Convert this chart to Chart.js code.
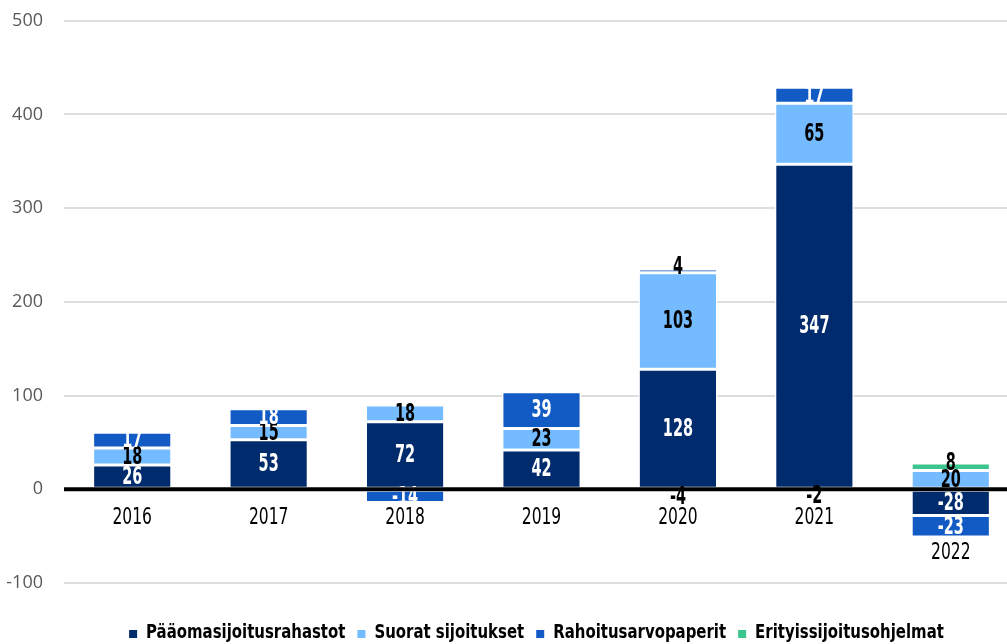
<!DOCTYPE html>
<html>
<head>
<meta charset="utf-8">
<script src="https://cdn.jsdelivr.net/npm/chart.js@4.4.0/dist/chart.umd.min.js"></script>
<style>
  html, body { margin: 0; padding: 0; background: #fff; overflow: hidden; }
  #wrap { position: relative; width: 1019px; height: 655px; margin-top: -11px; }
</style>
</head>
<body>
<div id="wrap"><canvas id="flowChart"></canvas></div>
<script>
// categories and series
let years = ['2016', '2017', '2018', '2019', '2020', '2021', '2022'];
let seriesNames = [
    'Pääomasijoitusrahastot',
    'Suorat sijoitukset',
    'Rahoitusarvopaperit',
    'Erityissijoitusohjelmat'
];
let rahastot = [26, 53, 72, 42, 128, 347, -28];
let suorat = [18, 15, 18, 23, 103, 65, 20];
let rahoitus = [17, 18, -14, 39, 4, 17, -23];
let erityis = [0, 0, 0, 0, -4, -2, 8];
let yTicks = [-100, 0, 100, 200, 300, 400, 500];

let seriesColors = ['#002b6c', '#75bbff', '#125ac4', '#3cc68f'];
let labelColors = ['#ffffff', '#000000', '#ffffff', '#000000'];

const narrow = '"DejaVu Sans Condensed", "DejaVu Sans", sans-serif';

// squeeze text sideways, the original uses a condensed face
function squeezeText(ctx, text, x, y, sx) {
    ctx.save();
    ctx.translate(x, y);
    ctx.scale(sx, 1);
    ctx.fillText(text, 0, 0);
    ctx.restore();
}

// value labels centred in each segment
const valueLabels = {
    id: 'valueLabels',
    afterDatasetsDraw(chart) {
        const ctx = chart.ctx;
        ctx.save();
        ctx.font = 'bold 24px ' + narrow;
        ctx.textAlign = 'center';
        ctx.textBaseline = 'middle';
        chart.data.datasets.forEach((ds, di) => {
            const meta = chart.getDatasetMeta(di);
            meta.data.forEach((bar, i) => {
                const v = ds.data[i];
                if (!v) return;
                const h = Math.abs(bar.base - bar.y);
                let ly = (bar.y + bar.base) / 2 + 1;
                if (h < 8) {
                    // thin slices: label nudged off the zero side
                    ctx.fillStyle = '#000000';
                    ly += v > 0 ? -4 : 5;
                } else {
                    ctx.fillStyle = labelColors[di];
                }
                squeezeText(ctx, String(v), bar.x, ly, 0.67);
            });
        });
        ctx.restore();
    }
};

// thick zero line on top of the bars, category names under it
const zeroAxis = {
    id: 'zeroAxis',
    afterDatasetsDraw(chart) {
        const ctx = chart.ctx;
        const y = chart.scales.y;
        const x = chart.scales.x;
        const area = chart.chartArea;
        const zero = y.getPixelForValue(0);
        ctx.save();
        ctx.strokeStyle = '#000000';
        ctx.lineWidth = 4;
        ctx.beginPath();
        ctx.moveTo(area.left, zero);
        ctx.lineTo(area.right, zero);
        ctx.stroke();

        ctx.font = '23px ' + narrow;
        ctx.fillStyle = '#000000';
        ctx.textAlign = 'center';
        ctx.textBaseline = 'middle';
        years.forEach((yr, i) => {
            let neg = 0;
            chart.data.datasets.forEach(ds => { if (ds.data[i] < 0) neg += ds.data[i]; });
            const ty = Math.max(zero + 28.5, y.getPixelForValue(neg) + 16);
            squeezeText(ctx, yr, x.getPixelForValue(i), ty, 0.75);
        });
        ctx.restore();
    }
};

// legend row at the bottom
const bottomLegend = {
    id: 'bottomLegend',
    afterDraw(chart) {
        const ctx = chart.ctx;
        const sx = 0.83;
        const box = 8, gap = 9, between = 12;
        ctx.save();
        ctx.font = 'bold 20px ' + narrow;
        ctx.textBaseline = 'middle';
        ctx.textAlign = 'left';
        const widths = seriesNames.map(n => ctx.measureText(n).width * sx);
        let total = widths.reduce((a, b) => a + b, 0) + seriesNames.length * (box + gap) + (seriesNames.length - 1) * between;
        const area = chart.chartArea;
        let cx = (area.left + area.right) / 2 - 5 - total / 2;
        const ty = chart.height - 11;
        seriesNames.forEach((n, i) => {
            ctx.fillStyle = seriesColors[i];
            ctx.fillRect(cx, ty - 3, box, box);
            cx += box + gap;
            ctx.fillStyle = '#000000';
            squeezeText(ctx, n, cx, ty, sx);
            cx += widths[i] + between;
        });
        ctx.restore();
    }
};

const seriesData = [rahastot, suorat, rahoitus, erityis];

new Chart(document.getElementById('flowChart'), {
    type: 'bar',
    data: {
        labels: years,
        datasets: seriesNames.map((name, i) => ({
            label: name,
            data: seriesData[i],
            backgroundColor: seriesColors[i],
            borderColor: '#ffffff',
            borderWidth: 1.5,
            borderSkipped: false,
            categoryPercentage: 1,
            barPercentage: 0.58
        }))
    },
    options: {
        responsive: true,
        maintainAspectRatio: false,
        animation: false,
        layout: { padding: { top: 10, left: 0, right: 0, bottom: 61 } },
        scales: {
            x: {
                stacked: true,
                display: false
            },
            y: {
                stacked: true,
                min: -100,
                max: 500,
                afterBuildTicks(scale) {
                    scale.ticks = yTicks.map(v => ({ value: v }));
                },
                afterFit(scale) { scale.width = 64; },
                border: { display: false },
                grid: {
                    drawTicks: false,
                    lineWidth: 2,
                    color: ctx => ctx.tick && ctx.tick.value === 0 ? 'rgba(0,0,0,0)' : '#dedede'
                },
                ticks: {
                    padding: 21,
                    color: '#595959',
                    font: { family: '"Open Sans", sans-serif', size: 18 }
                }
            }
        },
        plugins: {
            tooltip: { enabled: false },
            legend: { display: false }
        }
    },
    plugins: [valueLabels, zeroAxis, bottomLegend]
});
</script>
</body>
</html>
